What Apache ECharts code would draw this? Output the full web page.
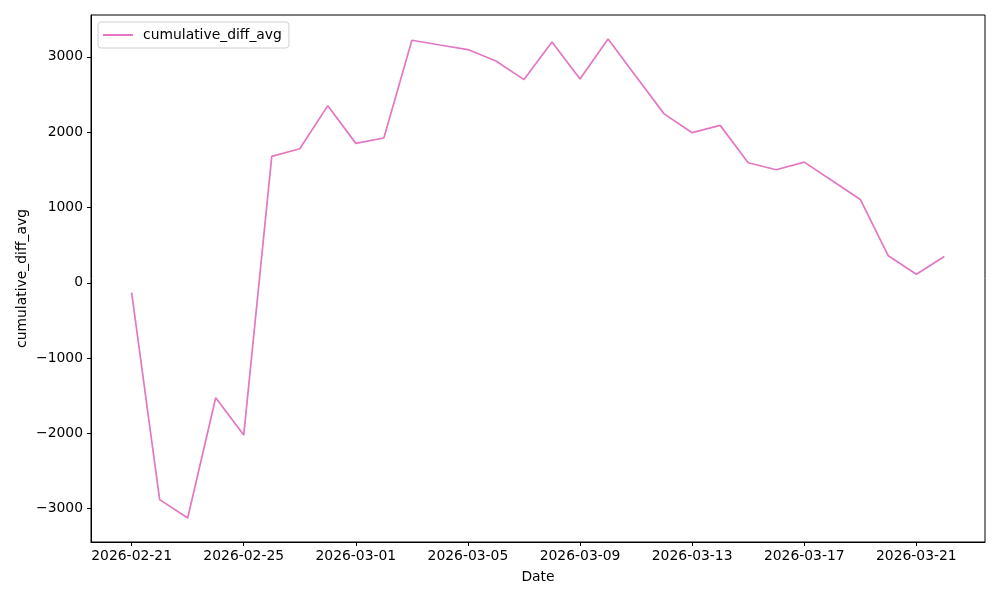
<!DOCTYPE html>
<html>
<head>
<meta charset="utf-8">
<script src="https://cdn.jsdelivr.net/npm/echarts@6/dist/echarts.min.js"></script>
<style>
  html, body { margin: 0; padding: 0; background: #fff; }
  #chart { width: 1000px; height: 600px; }
</style>
</head>
<body>
<div id="chart"></div>
<script>
const dates = [
  "2026-02-21", "2026-02-22", "2026-02-23", "2026-02-24", "2026-02-25",
  "2026-02-26", "2026-02-27", "2026-02-28", "2026-03-01", "2026-03-02",
  "2026-03-03", "2026-03-04", "2026-03-05", "2026-03-06", "2026-03-07",
  "2026-03-08", "2026-03-09", "2026-03-10", "2026-03-11", "2026-03-12",
  "2026-03-13", "2026-03-14", "2026-03-15", "2026-03-16", "2026-03-17",
  "2026-03-18", "2026-03-19", "2026-03-20", "2026-03-21", "2026-03-22"
];
const cumulativeDiffAvg = [
  -130, -2880, -3125, -1527, -2023,
  1678, 1780, 2352, 1851, 1922,
  3221, 3158, 3097, 2945, 2698,
  3198, 2706, 3238, 2738, 2243,
  1993, 2090, 1594, 1501, 1602,
  1355, 1106, 358, 113, 348
];
const xTickIdx = [0, 4, 8, 12, 16, 20, 24, 28];
const yTicks = [-3000, -2000, -1000, 0, 1000, 2000, 3000];

const font = "DejaVu Sans";
const fs = 13.9;

const chart = echarts.init(document.getElementById("chart"));
chart.setOption({
  animation: false,
  backgroundColor: "#fff",
  textStyle: { fontFamily: font },
  grid: {
    left: 91, right: 15, top: 15, bottom: 58,
    show: true, borderColor: "#000", borderWidth: 1,
    containLabel: false
  },
  legend: {
    left: 98, top: 22,
    padding: [6, 7, 6, 5],
    borderColor: "#d0d0d0", borderWidth: 1, borderRadius: 3,
    icon: "rect", itemWidth: 30, itemHeight: 2, itemGap: 10,
    textStyle: { fontFamily: font, fontSize: fs, color: "#000", padding: [0, 0, 0, 5] },
    data: ["cumulative_diff_avg"]
  },
  xAxis: {
    type: "value",
    min: -1.45, max: 30.45,
    name: "Date", nameLocation: "middle", nameGap: 28,
    nameMoveOverlap: false,
    nameTextStyle: { fontFamily: font, fontSize: fs, color: "#000" },
    axisLine: { show: true, onZero: false, lineStyle: { color: "#000", width: 1 } },
    axisTick: { show: true, length: 4, customValues: xTickIdx, lineStyle: { color: "#000" } },
    axisLabel: {
      customValues: xTickIdx, margin: 7,
      fontFamily: font, fontSize: fs, color: "#000",
      formatter: v => dates[Math.round(v)]
    },
    splitLine: { show: false }
  },
  yAxis: {
    type: "value",
    min: -3443, max: 3556,
    name: "cumulative_diff_avg", nameLocation: "middle", nameGap: 62,
    nameMoveOverlap: false,
    nameTextStyle: { fontFamily: font, fontSize: fs, color: "#000" },
    axisLine: { show: true, onZero: false, lineStyle: { color: "#000", width: 1 } },
    axisTick: { show: true, length: 4, customValues: yTicks, lineStyle: { color: "#000" } },
    axisLabel: {
      customValues: yTicks, margin: 8,
      fontFamily: font, fontSize: fs, color: "#000",
      formatter: v => (v < 0 ? "\u2212" + Math.abs(v) : String(v))
    },
    splitLine: { show: false }
  },
  series: [{
    name: "cumulative_diff_avg",
    type: "line",
    showSymbol: false,
    symbol: "none",
    color: "#e377c2",
    lineStyle: { width: 1.7, color: "#e377c2" },
    data: cumulativeDiffAvg.map((v, i) => [i, v])
  }]
});
</script>
</body>
</html>
